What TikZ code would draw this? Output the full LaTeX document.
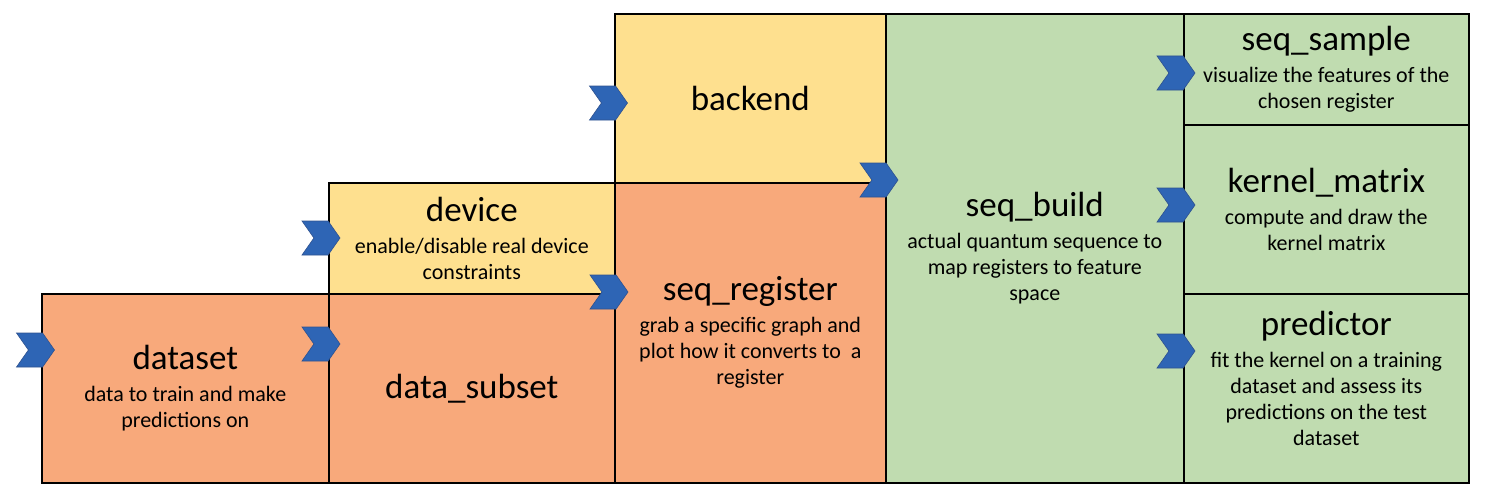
\documentclass[tikz,border=0pt]{standalone}
\usepackage{fontspec}
\setmainfont{Carlito}
\usetikzlibrary{shapes.symbols}

\definecolor{stageOrange}{HTML}{F8A97B}
\definecolor{stageYellow}{HTML}{FEE08F}
\definecolor{stageGreen}{HTML}{C0DCB0}
\definecolor{arrowBlue}{HTML}{2E65B5}
\definecolor{arrowEdge}{HTML}{2F528F}

\newcommand{\boxTitle}[1]{{\fontsize{35}{40}\selectfont #1}}

\begin{document}
\begin{tikzpicture}
[x=1pt,y=-1pt,
 stageBox/.style={shape=rectangle,draw=black,line width=1.6pt,inner sep=0pt,
   anchor=north west,align=center,font=\fontsize{22}{26}\selectfont},
 chevronMark/.style={shape=signal,signal from=west,signal to=east,
   signal pointer angle=110,fill=arrowBlue,draw=arrowEdge,line width=0.6pt,
   inner sep=0pt,minimum width=38pt,minimum height=34pt}]
\useasboundingbox (0,0) rectangle (1494,495);
%% stage boxes
\node (dataset) at (41,293) [stageBox,fill=stageOrange,minimum width=287pt,minimum height=189pt]
  {\boxTitle{dataset}\\[6pt]data to train and make\\predictions on};
\node (dataSubset) at (328,293) [stageBox,fill=stageOrange,minimum width=286pt,minimum height=189pt]
  {\boxTitle{data\_subset}};
\node (device) at (328,182) [stageBox,fill=stageYellow,minimum width=286pt,minimum height=111pt]
  {\boxTitle{device}\\[6pt]enable/disable real device\\constraints};
\node (backend) at (614,13) [stageBox,fill=stageYellow,minimum width=271pt,minimum height=169pt]
  {\boxTitle{backend}};
\node (seqRegister) at (614,182) [stageBox,fill=stageOrange,minimum width=271pt,minimum height=300pt]
  {\boxTitle{seq\_register}\\[6pt]grab a specific graph and\\plot how it converts to ~a\\register};
\node (seqBuild) at (885,13) [stageBox,fill=stageGreen,minimum width=298pt,minimum height=469pt]
  {\boxTitle{seq\_build}\\[6pt]actual quantum sequence to\\map registers to feature\\space};
\node (seqSample) at (1183,13) [stageBox,fill=stageGreen,minimum width=285pt,minimum height=111pt]
  {\boxTitle{seq\_sample}\\[6pt]visualize the features of the\\chosen register};
\node (kernelMatrix) at (1183,124) [stageBox,fill=stageGreen,minimum width=285pt,minimum height=169pt]
  {\boxTitle{kernel\_matrix}\\[6pt]compute and draw the\\kernel matrix};
\node (predictor) at (1183,293) [stageBox,fill=stageGreen,minimum width=285pt,minimum height=189pt]
  {\boxTitle{predictor}\\[6pt]fit the kernel on a training\\dataset and assess its\\predictions on the test\\dataset\\[-6pt]\mbox{}};
%% chevrons
\foreach \cname/\cx/\cy in {inData/35.5/350, inSubset/321/344, inDevice/321/238,
    inRegister/609/292, inBackend/608.5/103, inBuild/879/180,
    inSample/1176/73, inKernel/1176/205, inPredictor/1176/351} {
  \node (\cname) at (\cx,\cy) [chevronMark] {};
}
\end{tikzpicture}
\end{document}
